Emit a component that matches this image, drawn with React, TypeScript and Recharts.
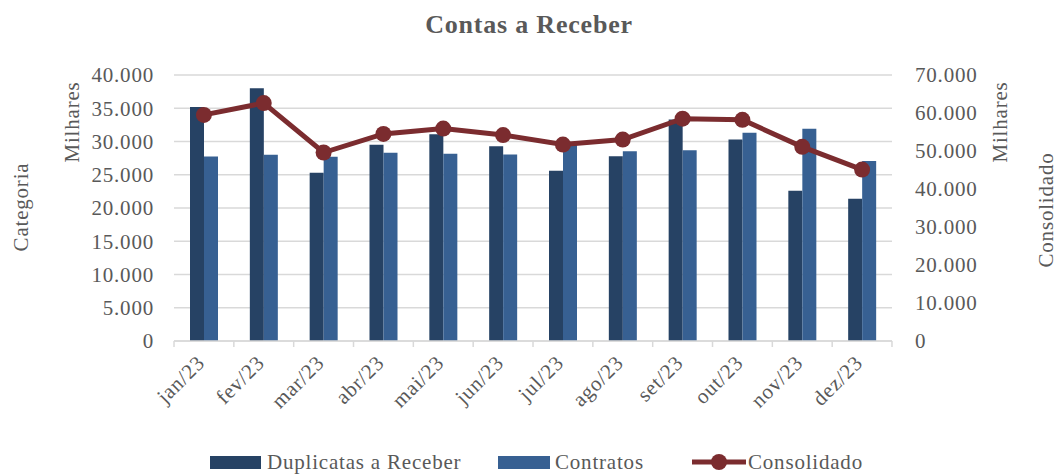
import React from 'react';
import { ComposedChart, Bar, Line, XAxis, YAxis, CartesianGrid } from 'recharts';

const months = ['jan/23', 'fev/23', 'mar/23', 'abr/23', 'mai/23', 'jun/23', 'jul/23', 'ago/23', 'set/23', 'out/23', 'nov/23', 'dez/23'];
const duplicatas = [35200, 38000, 25300, 29500, 31100, 29300, 25600, 27800, 33300, 30300, 22600, 21400];
const contratos = [27750, 28000, 27700, 28300, 28150, 28050, 29700, 28550, 28700, 31300, 31900, 27050];
const consolidado = [59500, 62600, 49600, 54500, 55900, 54200, 51700, 53000, 58500, 58200, 51100, 45100];
const leftTicks = [0, 5000, 10000, 15000, 20000, 25000, 30000, 35000, 40000];
const rightTicks = [0, 10000, 20000, 30000, 40000, 50000, 60000, 70000];

const data = months.map((m, i) => ({
  month: m,
  duplicatas: duplicatas[i],
  contratos: contratos[i],
  consolidado: consolidado[i],
}));

const FONT = '"Liberation Serif", "Times New Roman", serif';
const TEXT = '#595959';
const DARK = '#264264';
const LIGHT = '#376092';
const RED = '#7B2C2F';
const GRID = '#d9d9d9';
const FS = 21;
const LS = 0.8;

const fmt = (v: number) => (v === 0 ? '0' : v.toLocaleString('de-DE'));

const XTick = (props: any) => {
  const { x, y, payload, index } = props;
  const half = 29.9;
  return (
    <g>
      <line x1={x - half} x2={x - half} y1={y} y2={y + 6} stroke={GRID} strokeWidth={1.5} />
      {index === months.length - 1 && (
        <line x1={x + half} x2={x + half} y1={y} y2={y + 6} stroke={GRID} strokeWidth={1.5} />
      )}
      <text
        x={0}
        y={0}
        transform={`translate(${x + 2},${y + 23}) rotate(-45)`}
        textAnchor="end"
        fontFamily={FONT}
        fontSize={FS}
        letterSpacing={LS}
        fill={TEXT}
      >
        {payload.value}
      </text>
    </g>
  );
};

const YTick = (props: any) => {
  const { x, y, payload, anchor } = props;
  return (
    <text
      x={x}
      y={y}
      dy="0.355em"
      textAnchor={anchor}
      fontFamily={FONT}
      fontSize={FS}
      letterSpacing={LS}
      fill={TEXT}
    >
      {fmt(payload.value)}
    </text>
  );
};

const rot = (x: number, y: number): React.CSSProperties => ({
  position: 'absolute',
  left: x,
  top: y,
  transform: 'translate(-50%, -50%) rotate(-90deg)',
  whiteSpace: 'nowrap',
  fontFamily: FONT,
  fontSize: FS,
  letterSpacing: LS,
  color: TEXT,
  lineHeight: 1,
});

const legendText = (x: number): React.CSSProperties => ({
  position: 'absolute',
  left: x,
  top: 462,
  transform: 'translateY(-50%)',
  whiteSpace: 'nowrap',
  fontFamily: FONT,
  fontSize: FS,
  letterSpacing: LS,
  color: TEXT,
  lineHeight: 1,
});

export default function App() {
  return (
    <div style={{ position: 'absolute', left: 0, top: 0, width: 1058, height: 474, background: '#fff', overflow: 'hidden' }}>
      <ComposedChart
        width={1058}
        height={474}
        data={data}
        margin={{ top: 75, right: 0, bottom: 0, left: 0 }}
        barGap={0}
      >
        <CartesianGrid yAxisId="left" vertical={false} stroke={GRID} strokeWidth={1.5} />
        <XAxis
          dataKey="month"
          height={133}
          tickSize={0}
          tickMargin={0}
          axisLine={{ stroke: GRID, strokeWidth: 1.5 }}
          tickLine={false}
          tick={<XTick />}
          interval={0}
        />
        <YAxis
          yAxisId="left"
          width={174}
          domain={[0, 40000]}
          ticks={leftTicks}
          axisLine={false}
          tickLine={false}
          tickMargin={14}
          tick={<YTick anchor="end" />}
        />
        <YAxis
          yAxisId="right"
          orientation="right"
          width={166}
          domain={[0, 70000]}
          ticks={rightTicks}
          axisLine={false}
          tickLine={false}
          tickMargin={17}
          tick={<YTick anchor="start" />}
        />
        <Bar yAxisId="left" dataKey="duplicatas" fill={DARK} barSize={14} isAnimationActive={false} />
        <Bar yAxisId="left" dataKey="contratos" fill={LIGHT} barSize={14} isAnimationActive={false} />
        <Line
          yAxisId="right"
          dataKey="consolidado"
          stroke={RED}
          strokeWidth={5}
          dot={{ r: 8, fill: RED, stroke: RED, strokeWidth: 0 }}
          isAnimationActive={false}
        />
      </ComposedChart>

      <div
        style={{
          position: 'absolute',
          left: 0,
          width: 1058,
          top: 25,
          transform: 'translateY(-50%)',
          textAlign: 'center',
          fontFamily: FONT,
          fontWeight: 'bold',
          fontSize: 26,
          letterSpacing: 0.8,
          color: TEXT,
          lineHeight: 1,
        }}
      >
        Contas a Receber
      </div>
      <div style={rot(72, 122)}>Milhares</div>
      <div style={rot(21, 207)}>Categoria</div>
      <div style={rot(1000, 122)}>Milhares</div>
      <div style={rot(1046, 210)}>Consolidado</div>

      <span style={{ position: 'absolute', left: 210, top: 456, width: 51, height: 13, background: DARK }} />
      <div style={legendText(267)}>Duplicatas a Receber</div>
      <span style={{ position: 'absolute', left: 498, top: 456, width: 52, height: 13, background: LIGHT }} />
      <div style={legendText(555)}>Contratos</div>
      <svg width={54} height={18} style={{ position: 'absolute', left: 692, top: 453 }}>
        <line x1={0} x2={54} y1={9} y2={9} stroke={RED} strokeWidth={5} />
        <circle cx={27} cy={9} r={8} fill={RED} />
      </svg>
      <div style={legendText(748)}>Consolidado</div>
    </div>
  );
}
